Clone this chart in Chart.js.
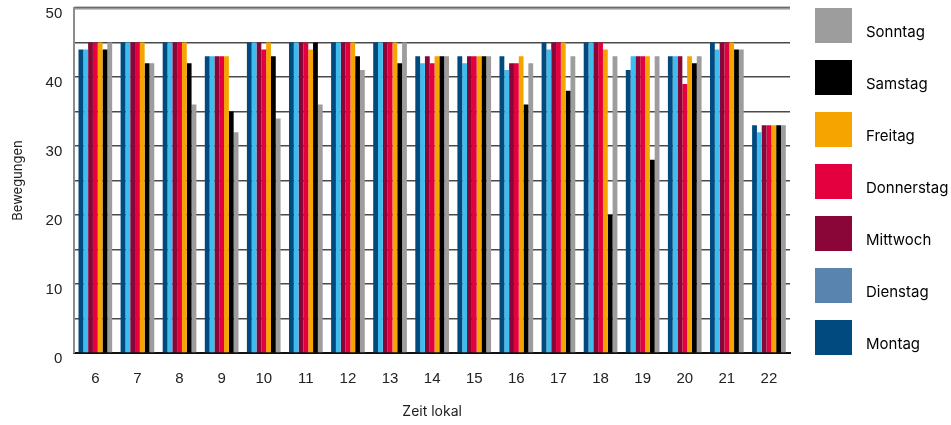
<!DOCTYPE html>
<html>
<head>
<meta charset="utf-8">
<script src="https://cdn.jsdelivr.net/npm/chart.js@4/dist/chart.umd.min.js"></script>
<style>
  html, body { margin: 0; padding: 0; background: #fff; }
  #wrap { width: 951px; height: 425px; }
</style>
</head>
<body>
<div id="wrap"><canvas id="myBarChart"></canvas></div>
<script>
var hours = ["6", "7", "8", "9", "10", "11", "12", "13", "14", "15", "16", "17", "18", "19", "20", "21", "22"];

var montag     = [44, 45, 45, 43, 45, 45, 45, 45, 43, 43, 43, 45, 45, 41, 43, 45, 33];
var dienstag   = [44, 45, 45, 43, 45, 45, 45, 45, 42, 42, 41, 44, 45, 43, 43, 44, 32];
var mittwoch   = [45, 45, 45, 43, 45, 45, 45, 45, 43, 43, 42, 45, 45, 43, 43, 45, 33];
var donnerstag = [45, 45, 45, 43, 44, 45, 45, 45, 42, 43, 42, 45, 45, 43, 39, 45, 33];
var freitag    = [45, 45, 45, 43, 45, 44, 45, 45, 43, 43, 43, 45, 44, 43, 43, 45, 33];
var samstag    = [44, 42, 42, 35, 43, 45, 43, 42, 43, 43, 36, 38, 20, 28, 42, 44, 33];
var sonntag    = [45, 42, 36, 32, 34, 36, 41, 45, 43, 43, 42, 43, 43, 43, 43, 44, 33];

var dayNames = ["Montag", "Dienstag", "Mittwoch", "Donnerstag", "Freitag", "Samstag", "Sonntag"];
var barColors = ["#004a80", "#3fbcee", "#8a0538", "#e4003f", "#f6a500", "#000000", "#9d9d9d"];
var legendColors = ["#004a80", "#5a84b0", "#8a0538", "#e4003f", "#f6a500", "#000000", "#9d9d9d"];
var series = [montag, dienstag, mittwoch, donnerstag, freitag, samstag, sonntag];

var datasets = series.map(function (values, i) {
  return {
    label: dayNames[i],
    data: values,
    backgroundColor: barColors[i],
    borderWidth: 0,
    barPercentage: 1,
    categoryPercentage: 0.8,
  };
});

// legend square as a little canvas, shifted up a bit against the text
function legendSquare(color) {
  var c = document.createElement("canvas");
  c.width = 37;
  c.height = 48;
  var g = c.getContext("2d");
  g.fillStyle = color;
  g.fillRect(0, 0, 37, 35);
  return c;
}
var legendIcons = legendColors.map(legendSquare);

// top frame line of the plot area + legend placement
var frameAndLegend = {
  id: "frameAndLegend",
  beforeDraw: function (chart) {
    chart.legend.left = 771.5;
    chart.legend.top = -12.5;
  },
  afterDraw: function (chart) {
    var a = chart.chartArea;
    var ctx = chart.ctx;
    ctx.save();
    ctx.strokeStyle = "#8c8c8c";
    ctx.lineWidth = 1;
    ctx.beginPath();
    ctx.moveTo(a.left, a.top - 1);
    ctx.lineTo(a.right, a.top - 1);
    ctx.moveTo(a.left, a.top + 1);
    ctx.lineTo(a.right, a.top + 1);
    ctx.stroke();
    ctx.restore();
  },
};

var myBarChart = document.getElementById("myBarChart");

new Chart(myBarChart, {
  type: "bar",
  data: { labels: hours, datasets: datasets },
  plugins: [frameAndLegend],
  options: {
    responsive: true,
    maintainAspectRatio: false,
    animation: false,
    layout: { padding: { top: 8, right: 0, left: 6, bottom: 0 } },
    plugins: {
      tooltip: { enabled: false },
      legend: {
        position: "right",
        align: "start",
        reverse: true,
        maxWidth: 161,
        labels: {
          usePointStyle: true,
          pointStyleWidth: 50,
          padding: 37,
          color: "#222",
          font: { family: "Inter", size: 15 },
          generateLabels: function (chart) {
            return chart.data.datasets.map(function (ds, i) {
              return {
                text: ds.label,
                fillStyle: legendColors[i],
                strokeStyle: legendColors[i],
                pointStyle: legendIcons[i],
                lineWidth: 0,
                hidden: false,
                datasetIndex: i,
              };
            });
          },
        },
      },
    },
    scales: {
      x: {
        afterFit: function (scale) { scale.height = 72; },
        grid: { display: false, drawTicks: false },
        border: { color: "#111", width: 2 },
        ticks: { color: "#222", padding: 17, font: { family: "Liberation Sans", size: 15 } },
        title: { display: true, text: "Zeit lokal", color: "#222", padding: { top: 0, bottom: 5 }, font: { family: "Inter", size: 14 } },
      },
      y: {
        min: 0,
        max: 50,
        afterFit: function (scale) { scale.paddingTop = 0; scale.paddingBottom = 0; },
        grid: { color: "#4a4a4a", lineWidth: 1.5, drawTicks: false },
        border: { color: "#8c8c8c", width: 2 },
        ticks: {
          stepSize: 5,
          padding: 12,
          labelOffset: 6,
          color: "#222",
          font: { family: "Liberation Sans", size: 15 },
          callback: function (v) { return v % 10 === 0 ? v : ""; },
        },
        title: { display: true, text: "Bewegungen", color: "#222", padding: { bottom: 8 }, font: { family: "Inter", size: 13 } },
      },
    },
  },
});
</script>
</body>
</html>
